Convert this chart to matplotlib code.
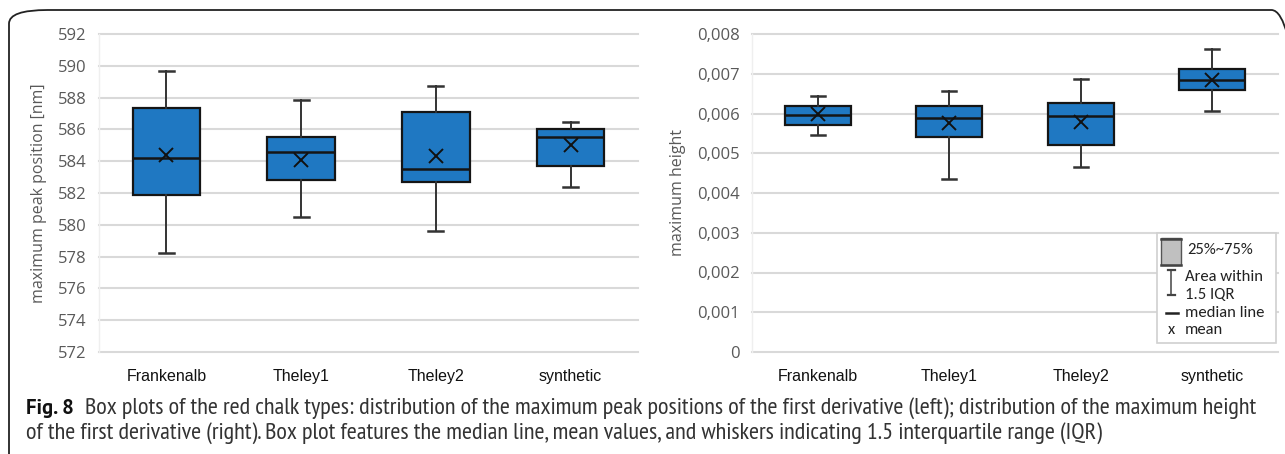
import matplotlib
matplotlib.use("Agg")
import matplotlib.pyplot as plt
from matplotlib import font_manager
from matplotlib.patches import FancyBboxPatch, Rectangle
from matplotlib.lines import Line2D

# ---------------- data ----------------
categories = ["Frankenalb", "Theley1", "Theley2", "synthetic"]

# left: maximum peak position [nm]
peak_whislo = [578.2, 580.5, 579.6, 582.35]
peak_q1     = [581.9, 582.8, 582.7, 583.7]
peak_med    = [584.2, 584.6, 583.5, 585.5]
peak_q3     = [587.35, 585.55, 587.1, 586.0]
peak_whishi = [589.7, 587.85, 588.75, 586.45]
peak_mean   = [584.4, 584.05, 584.3, 585.0]
peak_ticks  = [572, 574, 576, 578, 580, 582, 584, 586, 588, 590, 592]

# right: maximum height
h_whislo = [0.00545, 0.00435, 0.00466, 0.00606]
h_q1     = [0.00571, 0.00540, 0.00522, 0.00660]
h_med    = [0.00597, 0.00588, 0.00593, 0.00684]
h_q3     = [0.00620, 0.00618, 0.00627, 0.00711]
h_whishi = [0.00645, 0.00656, 0.00688, 0.00763]
h_mean   = [0.00598, 0.00576, 0.00578, 0.00684]
h_ticks  = [0, 0.001, 0.002, 0.003, 0.004, 0.005, 0.006, 0.007, 0.008]
h_tick_labels = ["0", "0,001", "0,002", "0,003", "0,004", "0,005", "0,006", "0,007", "0,008"]

legend_labels = ["25%~75%", "Area within", "1.5 IQR", "median line", "mean"]
caption_bold = "Fig. 8"
caption_line1 = ("Box plots of the red chalk types: distribution of the maximum peak positions of the "
                 "first derivative (left); distribution of the maximum height")
caption_line2 = ("of the first derivative (right). Box plot features the median line, mean values, "
                 "and whiskers indicating 1.5 interquartile range (IQR)")

# ---------------- style ----------------
W, H = 1285, 454
names = {f.name for f in font_manager.fontManager.ttflist}
def pick(*cands):
    for c in cands:
        if c in names:
            return c
    return "DejaVu Sans"
cap_font = pick("PT Sans Narrow", "Fira Sans Condensed", "Roboto Condensed")
cap_bold_font = pick("PT Sans", "Fira Sans", "Liberation Sans")
tick_font = pick("Open Sans", "Noto Sans")
cat_font = pick("Liberation Sans", "Arimo")
leg_font = pick("Carlito", "Lato")

BOX_FILL = "#1f78c2"
EDGE = "#151515"
GRID = "#d9d9d9"
TICKC = "#595959"

fig = plt.figure(figsize=(W / 100, H / 100), dpi=100)


def px(x, y):
    return x / W, 1 - y / H


# frame (rounded box, only top/left edges fall inside the image)
frame = FancyBboxPatch(px(9, 470), (1310 - 9) / W, (470 - 10) / H,
                       boxstyle="round,pad=0,rounding_size=0.03", transform=fig.transFigure,
                       facecolor="none", edgecolor="#222222", linewidth=1.3, clip_on=True)
fig.patches.append(frame)


def make_axes(left, right, top, bottom):
    l, b = px(left, bottom)
    r, t = px(right, top)
    return fig.add_axes([l, b, r - l, t - b])


def draw(ax, lo, q1, med, q3, hi, mean, ticks, ticklabels, ylabel):
    stats = []
    for i in range(len(categories)):
        stats.append(dict(whislo=lo[i], q1=q1[i], med=med[i], q3=q3[i], whishi=hi[i],
                          mean=mean[i], fliers=[], label=categories[i]))
    ax.bxp(stats, positions=range(len(categories)), widths=0.5, capwidths=0.11,
           showmeans=True, patch_artist=True, showfliers=False,
           boxprops=dict(facecolor=BOX_FILL, edgecolor=EDGE, linewidth=1.6),
           medianprops=dict(color=EDGE, linewidth=1.8),
           whiskerprops=dict(color="#333333", linewidth=1.4),
           capprops=dict(color="#333333", linewidth=1.8),
           meanprops=dict(marker="x", markeredgecolor="#111111", markersize=10,
                          markeredgewidth=1.4))
    ax.set_xlim(-0.5, len(categories) - 0.5)
    ax.set_ylim(ticks[0], ticks[-1])
    ax.set_yticks(ticks)
    ax.set_yticklabels(ticklabels, fontname=tick_font, fontsize=12, color=TICKC)
    ax.set_xticks(range(len(categories)))
    ax.set_xticklabels(categories, fontname=cat_font, fontsize=11.5, color="#111111")
    ax.tick_params(axis="both", length=0)
    ax.tick_params(axis="y", pad=9)
    ax.tick_params(axis="x", pad=12)
    ax.grid(axis="y", color=GRID, linewidth=1.5)
    for gl in ax.get_ygridlines():
        gl.set_clip_on(False)
    ax.set_axisbelow(True)
    for s in ["top", "right", "bottom"]:
        ax.spines[s].set_visible(False)
    ax.spines["left"].set_color("#efefef")
    ax.spines["left"].set_linewidth(1.0)
    ax.set_ylabel(ylabel, fontname=tick_font, fontsize=11.5, color=TICKC, labelpad=8)
    ax.set_facecolor("none")


ax1 = make_axes(99, 638, 34, 352)
draw(ax1, peak_whislo, peak_q1, peak_med, peak_q3, peak_whishi, peak_mean,
     peak_ticks, [str(t) for t in peak_ticks], "maximum peak position [nm]")

ax2 = make_axes(752, 1278, 34, 352)
draw(ax2, h_whislo, h_q1, h_med, h_q3, h_whishi, h_mean,
     h_ticks, h_tick_labels, "maximum height")

# ---------------- legend (right panel) ----------------
lx0, ly0, lx1, ly1 = 1157, 233, 1276, 343
fig.patches.append(Rectangle(px(lx0, ly1), (lx1 - lx0) / W, (ly1 - ly0) / H,
                             transform=fig.transFigure, facecolor="white",
                             edgecolor="#d0d0d0", linewidth=1.2))
fig.patches.append(Rectangle(px(1161, 265), 20 / W, 27 / H, transform=fig.transFigure,
                             facecolor="#c0c0c0", edgecolor="#555555", linewidth=1.0))
for yy in (238.5, 265):
    fig.lines.append(Line2D([1161 / W, 1181 / W], [1 - yy / H] * 2, transform=fig.transFigure,
                            color="#444444", linewidth=1.8))
# whisker icon
fig.lines.append(Line2D([1171 / W] * 2, [1 - 270 / H, 1 - 295 / H], transform=fig.transFigure,
                        color="#444444", linewidth=1.1))
for yy in (270, 295):
    fig.lines.append(Line2D([1167.5 / W, 1174.5 / W], [1 - yy / H] * 2, transform=fig.transFigure,
                            color="#444444", linewidth=1.6))
# median icon
fig.lines.append(Line2D([1166 / W, 1178 / W], [1 - 313 / H] * 2, transform=fig.transFigure,
                        color="#222222", linewidth=1.8))
lt = dict(fontname=leg_font, fontsize=12, color="#222222", va="center", ha="left",
          transform=fig.transFigure)
fig.text(*px(1187, 250), legend_labels[0], **lt)
fig.text(*px(1185, 277), legend_labels[1], **lt)
fig.text(*px(1185, 295), legend_labels[2], **lt)
fig.text(*px(1185, 313), legend_labels[3], **lt)
fig.text(*px(1168, 330), "x", **lt)
fig.text(*px(1185, 330), legend_labels[4], **lt)

# ---------------- caption ----------------
t_bold = fig.text(*px(26, 408), caption_bold, fontname=cap_bold_font, fontweight="bold",
                  fontsize=14, color="#111111", va="center", ha="left")
t1 = fig.text(*px(85, 408), caption_line1, fontname=cap_font, fontsize=14,
              color="#333333", va="center", ha="left")
t2 = fig.text(*px(26, 433), caption_line2, fontname=cap_font, fontsize=14,
              color="#333333", va="center", ha="left")

# fit caption widths to the reference layout
fig.canvas.draw()
r = fig.canvas.get_renderer()
def fit(t, target):
    w = t.get_window_extent(r).width
    t.set_fontsize(t.get_fontsize() * target / w)
fit(t_bold, 74 - 26)
fit(t1, 1265 - 85)
t2.set_fontsize(t1.get_fontsize())

fig.savefig("out.png", dpi=100)
